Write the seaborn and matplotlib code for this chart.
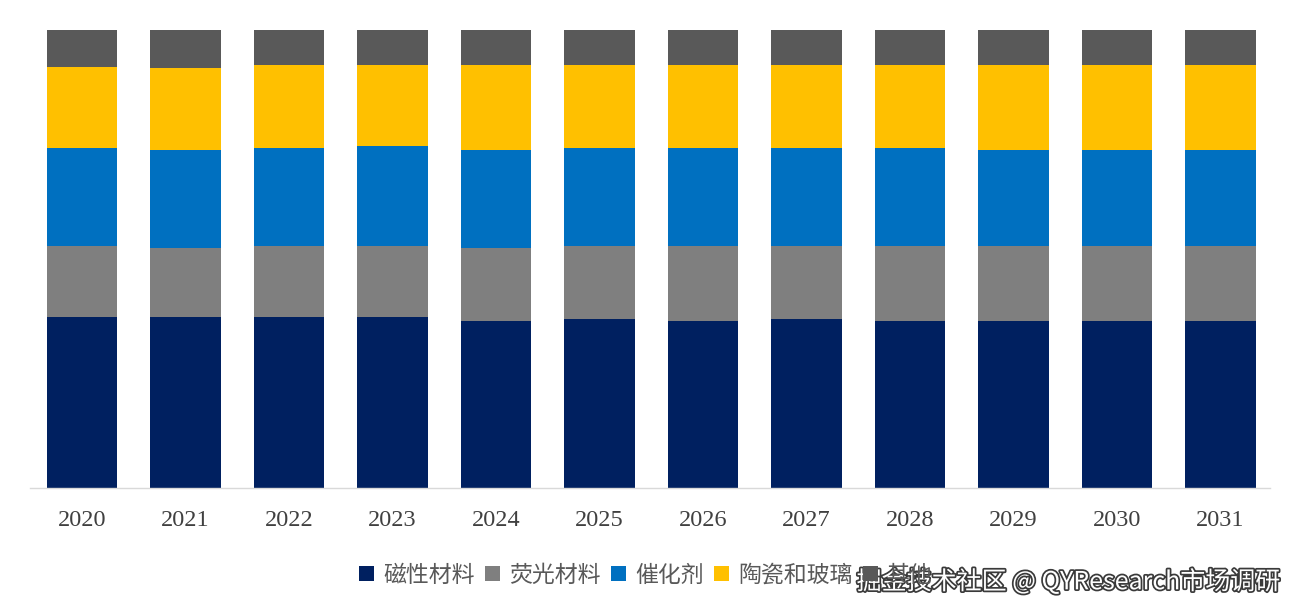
import numpy as np
import pandas as pd
import seaborn as sns
import matplotlib.pyplot as plt
from matplotlib.patches import Patch
import matplotlib.patheffects as pe

years = ['2020', '2021', '2022', '2023', '2024', '2025',
         '2026', '2027', '2028', '2029', '2030', '2031']
categories = ['磁性材料', '荧光材料', '催化剂', '陶瓷和玻璃', '其他']
# shares in %
magnetic = [37.3, 37.3, 37.3, 37.3, 36.4, 36.8, 36.4, 36.8, 36.4, 36.4, 36.4, 36.4]
phosphor = [15.6, 15.1, 15.6, 15.6, 16.0, 16.0, 16.4, 16.0, 16.4, 16.4, 16.4, 16.4]
catalyst = [21.4, 21.4, 21.4, 21.8, 21.4, 21.4, 21.4, 21.4, 21.4, 21.0, 21.0, 21.0]
ceramic = [17.6, 18.0, 18.1, 17.6, 18.5, 18.1, 18.1, 18.1, 18.1, 18.5, 18.5, 18.5]
other = [8.1, 8.2, 7.7, 7.7, 7.7, 7.7, 7.7, 7.7, 7.7, 7.7, 7.7, 7.7]

colors = ['#002060', '#7F7F7F', '#0070C0', '#FFC000', '#595959']

df = pd.DataFrame({'year': years, '磁性材料': magnetic, '荧光材料': phosphor,
                   '催化剂': catalyst, '陶瓷和玻璃': ceramic, '其他': other})
vals = df[categories].to_numpy()
vals = vals / vals.sum(axis=1, keepdims=True)
cum = np.cumsum(vals, axis=1)

sns.set_theme(style='white')
plt.rcParams['font.family'] = ['Noto Sans CJK SC', 'DejaVu Sans']

fig = plt.figure(figsize=(13, 6.14), dpi=100)
ax = fig.add_axes([30 / 1300, 1 - 488 / 614, 1240 / 1300, 458 / 614])

# stacked bars: draw cumulative totals from the top layer down
for i in range(len(categories) - 1, -1, -1):
    sns.barplot(x=df['year'], y=cum[:, i], color=colors[i], width=0.68,
                saturation=1, ax=ax, linewidth=0)

ax.set_ylim(0, 1)
ax.set_xlim(-0.502, 11.478)
ax.set_xlabel('')
ax.set_ylabel('')
ax.set_yticks([])
for s in ['top', 'left', 'right']:
    ax.spines[s].set_visible(False)
ax.spines['bottom'].set_color('#D9D9D9')
ax.spines['bottom'].set_linewidth(1)
ax.tick_params(axis='x', length=0, pad=16, colors='#404040')
for lab in ax.get_xticklabels():
    lab.set_fontfamily('Liberation Serif')
    lab.set_fontsize(17.5)

handles = [Patch(facecolor=c, edgecolor='none') for c in colors]
fig.legend(handles, categories, loc='center', bbox_to_anchor=(646 / 1300, 1 - 575 / 614),
           ncol=5, frameon=False, fontsize=16.5, handlelength=0.65, handleheight=0.65,
           handletextpad=0.4, columnspacing=0.45, labelcolor='#595959')

fig.text(1280 / 1300, 1 - 582 / 614, '掘金技术社区 @ QYResearch市场调研',
         ha='right', va='center', fontsize=18, color='white',
         path_effects=[pe.withStroke(linewidth=2.5, foreground='#3a3a3a')])

fig.savefig('out.png', dpi=100, facecolor='white')
